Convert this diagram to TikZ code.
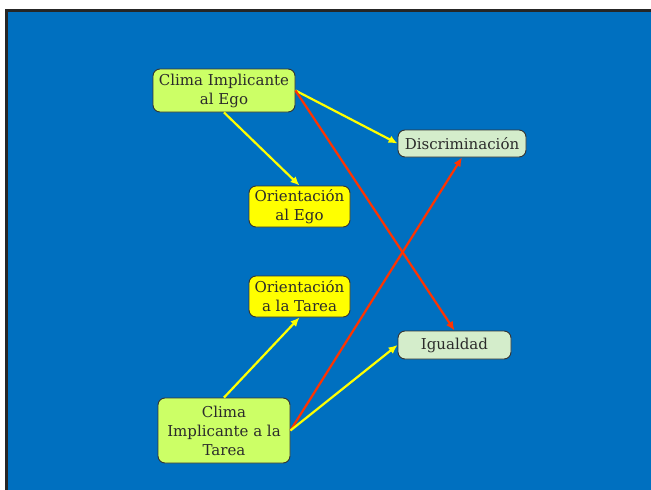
\documentclass[tikz,border=0pt]{standalone}
\usepackage{fontspec}
\setmainfont{DejaVu Serif}
\usetikzlibrary{arrows.meta}
\definecolor{slideblue}{HTML}{0070C0}
\definecolor{climafill}{HTML}{CCFF66}
\definecolor{orientfill}{HTML}{FFFF00}
\definecolor{resultfill}{HTML}{D4EDCB}
\definecolor{textgray}{HTML}{2B2B2B}
\definecolor{linkyellow}{HTML}{FFFF00}
\definecolor{linkred}{HTML}{FF3300}
\begin{document}
\begin{tikzpicture}[x=1pt,y=-1pt,
  box/.style={draw=black!80, line width=0.9pt, rounded corners=7pt, inner sep=0pt,
    align=center, text=textgray, font=\fontsize{15}{19}\selectfont},
  clima/.style={box, fill=climafill},
  orient/.style={box, fill=orientfill},
  result/.style={box, fill=resultfill},
  ylink/.style={draw=linkyellow, line width=2.2pt, -{Latex[length=9pt,width=8pt]}},
  rlink/.style={draw=linkred, line width=2.2pt, -{Latex[length=9pt,width=8pt]}}]
  % page frame
  \useasboundingbox (0,0) rectangle (651,490);
  \fill[white] (0,0) rectangle (651,490);
  \fill[black!85] (5,9) rectangle (651,490);
  \fill[slideblue] (8,12) rectangle (651,490);
  % nodes
  \node[clima, minimum width=142pt, minimum height=43pt] (cie) at (224,90.5) {Clima Implicante\\al Ego};
  \node[orient, minimum width=101pt, minimum height=41pt] (oe) at (299.5,206.5) {Orientación\\al Ego};
  \node[orient, minimum width=101pt, minimum height=41pt] (ot) at (299.5,296.5) {Orientación\\a la Tarea};
  \node[result, minimum width=128pt, minimum height=27pt] (disc) at (462,143.5) {Discriminación};
  \node[result, minimum width=113pt, minimum height=28pt] (igu) at (454.5,345) {Igualdad};
  \node[clima, minimum width=132pt, minimum height=65pt] (cit) at (224,430.5) {Clima\\Implicante a la\\Tarea};
  % connectors
  \draw[ylink] (cie.south) -- (oe.north);
  \draw[ylink] (cie.east) -- (disc.west);
  \draw[rlink] (cie.east) -- (igu.north);
  \draw[ylink] (cit.north) -- (ot.south);
  \draw[rlink] (cit.east) -- (disc.south);
  \draw[ylink] (cit.east) -- (igu.west);
\end{tikzpicture}
\end{document}
